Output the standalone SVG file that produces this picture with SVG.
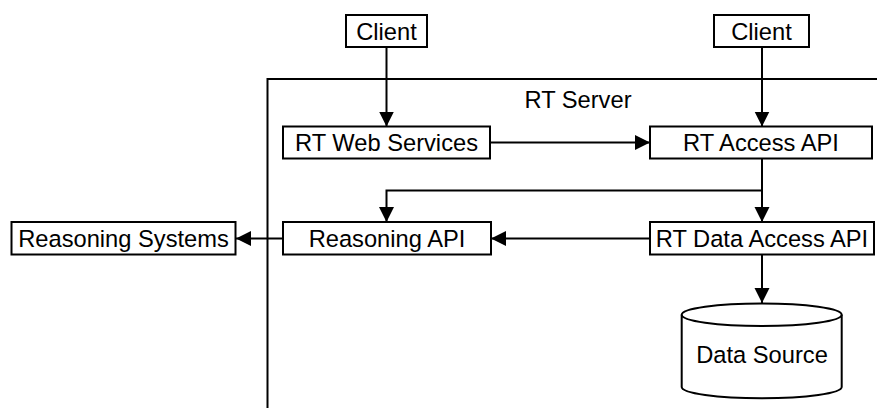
<svg xmlns="http://www.w3.org/2000/svg" width="877" height="408" viewBox="0 0 877 408">
  <defs>
    <marker id="arrow" markerUnits="userSpaceOnUse" markerWidth="16" markerHeight="16" refX="15" refY="7.5" orient="auto">
      <path d="M0,0 L15,7.5 L0,15 z" fill="#000"/>
    </marker>
    <style>
      .box { fill: #fff; stroke: #000; stroke-width: 2; }
      .frame { fill: none; stroke: #000; stroke-width: 2; }
      .lbl { font-family: "Liberation Sans", Arial, sans-serif; font-size: 23.7px; fill: #000; text-anchor: middle; }
      .conn { fill: none; stroke: #000; stroke-width: 2; }
    </style>
  </defs>
  <rect width="877" height="408" fill="#fff"/>

  <g id="rt-server">
    <rect class="frame" x="267.5" y="79" width="700" height="400"/>
    <text class="lbl" x="578" y="108">RT Server</text>
  </g>

  <g id="connectors">
    <path class="conn" d="M386.5,47.5 V126.5" marker-end="url(#arrow)"/>
    <path class="conn" d="M762,47 V126.5" marker-end="url(#arrow)"/>
    <path class="conn" d="M490,142.5 H650" marker-end="url(#arrow)"/>
    <path class="conn" d="M762,158.5 V222" marker-end="url(#arrow)"/>
    <path class="conn" d="M762,190.5 H386.5 V222" marker-end="url(#arrow)"/>
    <path class="conn" d="M650,238.5 H491" marker-end="url(#arrow)"/>
    <path class="conn" d="M283,238.5 H236" marker-end="url(#arrow)"/>
    <path class="conn" d="M762,254.5 V303" marker-end="url(#arrow)"/>
  </g>

  <g id="client-1">
    <rect class="box" x="346" y="15" width="81" height="32"/>
    <text class="lbl" x="386.5" y="39.5">Client</text>
  </g>
  <g id="client-2">
    <rect class="box" x="714" y="15" width="95" height="32"/>
    <text class="lbl" x="761.5" y="39.5">Client</text>
  </g>
  <g id="rt-web-services">
    <rect class="box" x="283" y="126.5" width="207" height="32"/>
    <text class="lbl" x="386.5" y="151">RT Web Services</text>
  </g>
  <g id="rt-access-api">
    <rect class="box" x="650" y="126.5" width="222" height="32"/>
    <text class="lbl" x="761" y="151">RT Access API</text>
  </g>
  <g id="reasoning-systems">
    <rect class="box" x="11.5" y="222" width="224" height="32.5"/>
    <text class="lbl" x="123.5" y="247">Reasoning Systems</text>
  </g>
  <g id="reasoning-api">
    <rect class="box" x="283" y="222" width="208" height="32.5"/>
    <text class="lbl" x="387" y="247">Reasoning API</text>
  </g>
  <g id="rt-data-access-api">
    <rect class="box" x="650" y="222" width="224" height="32.5"/>
    <text class="lbl" x="762" y="247">RT Data Access API</text>
  </g>
  <g id="data-source">
    <path class="box" d="M681.7,314.7 V387 A80,11.3 0 0 0 841.7,387 V314.7 A80,11.3 0 0 0 681.7,314.7 Z"/>
    <path class="conn" d="M681.7,314.7 A80,11.3 0 0 0 841.7,314.7"/>
    <text class="lbl" x="762" y="363.3">Data Source</text>
  </g>
</svg>
